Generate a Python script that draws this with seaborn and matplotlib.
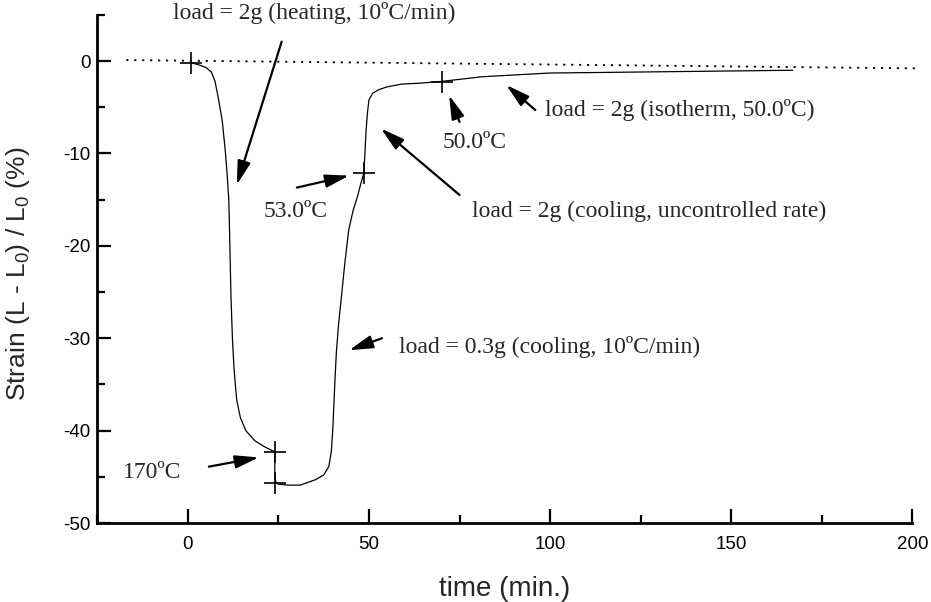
import numpy as np
import pandas as pd
import seaborn as sns
import matplotlib.pyplot as plt
from matplotlib.ticker import MultipleLocator

# strain curve (time in min, strain in %)
time_min = [1, 2.9, 5, 6.5, 7.5, 8.5, 9.5, 10.3, 10.8, 11.3, 11.6, 11.9, 12.3, 12.7,
            13.1, 13.5, 14.5, 16, 18.5, 21.4, 24, 24, 24.3, 25, 27.9, 31, 35.3, 37.5,
            38.9, 39.6, 40, 40.6, 41.0, 41.6, 42.4, 43.3, 44.4, 45.6, 46.8, 47.8,
            48.6, 49.2, 49.6, 50, 51, 52.7, 55, 59, 64, 70.2, 81.3, 86, 99.8, 122.8,
            145, 167]
strain = [-0.2, -0.4, -0.7, -1.2, -2.2, -4.2, -6.5, -9.6, -12, -15, -20, -25.5,
          -30, -33, -35, -36.7, -38.6, -40, -41.1, -41.8, -42.3, -45, -45.6, -45.8,
          -45.9, -45.9, -45.3, -44.8, -43.9, -42.3, -39.9, -34.6, -31.5, -28.5,
          -25.5, -22, -18.3, -16.2, -14.7, -13.2, -12.1, -7.5, -5.5, -4.2, -3.5,
          -3.1, -2.8, -2.5, -2.4, -2.2, -1.7, -1.6, -1.3, -1.2, -1.1, -1.0]

# cross markers on the curve
mark_t = [1, 24, 24, 48.6, 70.2]
mark_s = [-0.2, -42.3, -45.7, -12.1, -2.3]

# dotted reference baseline
base_t = [-17, 202]
base_s = [0.1, -0.8]

# annotations: label, text position, text alignment, arrow tail, arrow head
notes = [
    ("load = 2g (heating, 10ºC/min)", (-4, 5.2), "left", (25.9, 2.1), (13.5, -13.4)),
    ("53.0ºC", (29.6, -16.3), "center", (30.1, -13.7), (44.5, -12.4)),
    ("50.0ºC", (79.2, -8.8), "center", (75, -6.6), (72.1, -3.7)),
    ("load = 2g (cooling, uncontrolled rate)", (78.5, -16.3), "left", (75, -14.5), (53.3, -7.3)),
    ("load = 2g (isotherm, 50.0ºC)", (98.7, -5.3), "left", (95.9, -5.3), (87.9, -2.6)),
    ("load = 0.3g (cooling, 10ºC/min)", (58.3, -31), "left", (53.6, -30), (44.5, -31.3)),
    ("170ºC", (-9.8, -44.5), "center", (5.8, -43.9), (19.6, -42.9)),
]

sns.set_theme(style="ticks")
plt.rcParams['font.family'] = ['Liberation Sans', 'DejaVu Sans']
plt.rcParams['axes.unicode_minus'] = False
plt.rcParams['mathtext.default'] = 'regular'

fig, ax = plt.subplots(figsize=(9.31, 6.02), dpi=100)
fig.subplots_adjust(left=0.1045, right=0.98, bottom=0.1312, top=0.9754)

curve = pd.DataFrame({"time": time_min, "strain": strain})
sns.lineplot(data=curve, x="time", y="strain", sort=False, estimator=None,
             color="black", linewidth=0.9, ax=ax)
sns.lineplot(x=base_t, y=base_s, color="black", linewidth=1.3,
             linestyle=(0, (1.2, 3.2)), ax=ax)
ax.lines[-1].set_clip_on(False)
sns.scatterplot(x=mark_t, y=mark_s, marker="+", s=260, color="black",
                linewidth=1.2, ax=ax, zorder=3)

for label, (tx, ty), ha, tail, head in notes:
    ax.text(tx, ty, label, ha=ha, va="center", fontsize=17,
            family=["Liberation Serif", "DejaVu Serif"], clip_on=False)
    ax.annotate("", xy=head, xytext=tail, annotation_clip=False,
                arrowprops=dict(arrowstyle="-|>,head_length=0.8,head_width=0.22",
                                color="black", lw=1.6, shrinkA=0, shrinkB=0,
                                mutation_scale=18))

ax.set_xlim(-25, 200)
ax.set_ylim(-50, 5)
ax.xaxis.set_major_locator(MultipleLocator(50))
ax.xaxis.set_minor_locator(MultipleLocator(25))
ax.yaxis.set_major_locator(MultipleLocator(10))
ax.yaxis.set_minor_locator(MultipleLocator(5))
ax.tick_params(which="both", direction="in", width=1.6, labelsize=13.5, colors="black")
ax.tick_params(which="major", length=10)
ax.tick_params(which="minor", length=6)
ax.tick_params(axis="x", pad=9)
ax.tick_params(axis="y", pad=5)

sns.despine(ax=ax)
for side in ["left", "bottom"]:
    ax.spines[side].set_linewidth(2)
    ax.spines[side].set_color("black")

ax.set_xlabel("time (min.)", fontsize=20, labelpad=17)
ax.set_ylabel("Strain (L - L$_0$) / L$_0$ (%)", fontsize=19)
ax.yaxis.set_label_coords(-0.08, 0.49)

fig.savefig("out.png", dpi=100)
